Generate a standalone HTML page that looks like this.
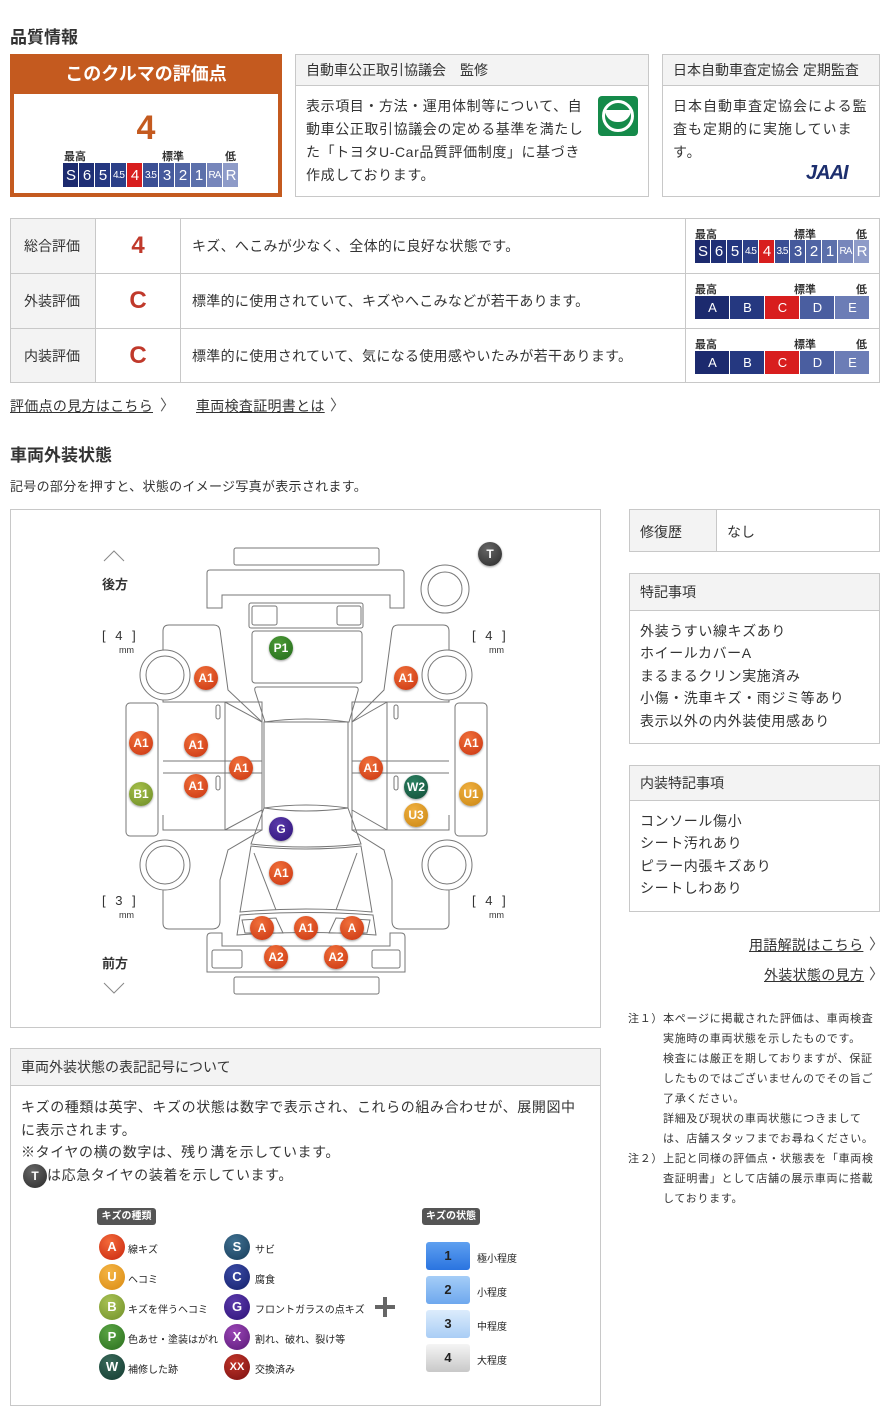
<!DOCTYPE html>
<html><head><meta charset="utf-8">
<style>
*{margin:0;padding:0;box-sizing:border-box}
body{width:890px;height:1425px;background:#fff;position:relative;font-family:"Liberation Sans","Noto Sans CJK JP",sans-serif;color:#333;overflow:hidden}
.a{position:absolute}
.box{position:absolute;border:1px solid #c8c8c8}
.hd{background:#f3f3f3;border-bottom:1px solid #c8c8c8;font-size:14px;padding-left:10px;color:#333}
.scale{display:flex;gap:1px}
.scale div{color:#fff;text-align:center;font-size:15px;display:flex;align-items:center;justify-content:center;letter-spacing:-1px}
.lbl{font-size:11px;font-weight:bold;color:#333;position:absolute}
.p{font-size:14px;line-height:23px;color:#333;letter-spacing:.6px}
.b{position:absolute;width:24px;height:24px;border-radius:50%;color:#fff;font-size:12px;text-align:center;line-height:24px;font-weight:bold;margin:-12px 0 0 -12px;box-shadow:0 1px 2px rgba(0,0,0,.4)}
.rA{background:radial-gradient(circle at 40% 30%,#f0703a,#c93310)}
.lg{position:absolute;width:26px;height:26px;border-radius:50%;color:#fff;font-size:13px;font-weight:bold;text-align:center;line-height:26px;margin:-13px 0 0 -13px}
.lt{position:absolute;font-size:10px;color:#222}
.sq{position:absolute;left:426px;width:44px;height:28px;border-radius:3px;text-align:center;line-height:28px;font-size:13px;font-weight:bold;color:#222}
.gr{position:absolute;left:96px;width:84px;height:55px;line-height:55px;text-align:center;font-size:24px;font-weight:bold;color:#c0392b}
.ds{position:absolute;left:192px;font-size:14px;letter-spacing:.3px}
</style></head><body>

<div class="a" style="left:10px;top:23px;font-size:17px;font-weight:bold">品質情報</div>

<div class="a" style="left:10px;top:54px;width:272px;height:143px;border:4px solid #c45a1f;background:#fff"></div>
<div class="a" style="left:10px;top:54px;width:272px;height:40px;background:#c45a1f;color:#fff;font-size:18px;font-weight:bold;text-align:center;line-height:40px">このクルマの評価点</div>
<div class="a" style="left:10px;top:108px;width:272px;text-align:center;font-size:34px;font-weight:bold;color:#c45a1f;line-height:40px">4</div>
<div class="lbl" style="left:64px;top:148px">最高</div>
<div class="lbl" style="left:162px;top:148px">標準</div>
<div class="lbl" style="left:225px;top:148px">低</div>
<div class="a scale" style="left:63px;top:163px;height:24px">
<div style="width:15px;background:#1c2a6e">S</div><div style="width:15px;background:#1f2f75">6</div><div style="width:15px;background:#243780">5</div><div style="width:15px;background:#2c4088;font-size:10px">4.5</div><div style="width:15px;background:#d81e1e">4</div><div style="width:15px;background:#3b4f94;font-size:10px">3.5</div><div style="width:15px;background:#45599c">3</div><div style="width:15px;background:#5064a4">2</div><div style="width:15px;background:#5c70ab">1</div><div style="width:15px;background:#7786bb;font-size:10px">RA</div><div style="width:15px;background:#8e9bc8">R</div>
</div>

<div class="box" style="left:295px;top:54px;width:354px;height:143px">
<div class="hd" style="height:31px;line-height:30px">自動車公正取引協議会　監修</div>
<div class="p" style="padding:9px 0 0 10px;width:297px">表示項目・方法・運用体制等について、自動車公正取引協議会の定める基準を満たした「トヨタU-Car品質評価制度」に基づき作成しております。</div>
</div>
<div class="a" style="left:598px;top:96px;width:40px;height:40px;background:#158a4a;border-radius:4px"></div>
<div class="a" style="left:602px;top:100px;width:32px;height:32px;border:3px solid #fff;border-radius:50%"></div>
<div class="a" style="left:605px;top:110px;width:26px;height:12px;border-bottom:3px solid #fff;border-radius:0 0 14px 14px;background:#fff"></div>

<div class="box" style="left:662px;top:54px;width:218px;height:143px">
<div class="hd" style="height:31px;line-height:30px">日本自動車査定協会 定期監査</div>
<div class="p" style="padding:9px 0 0 10px;width:208px;letter-spacing:1px">日本自動車査定協会による監査も定期的に実施しています。</div>
</div>
<div class="a" style="left:806px;top:162px;font-size:20px;font-weight:bold;font-style:italic;color:#1d2f6e;letter-spacing:-1px">JAAI</div>

<div class="box" style="left:10px;top:218px;width:870px;height:165px"></div>
<div class="a" style="left:10px;top:218px;width:86px;height:165px;background:#f3f3f3;border:1px solid #c8c8c8"></div>
<div class="a" style="left:95px;top:218px;width:1px;height:165px;background:#c8c8c8"></div>
<div class="a" style="left:180px;top:218px;width:1px;height:165px;background:#c8c8c8"></div>
<div class="a" style="left:685px;top:218px;width:1px;height:165px;background:#c8c8c8"></div>
<div class="a" style="left:10px;top:273px;width:870px;height:1px;background:#c8c8c8"></div>
<div class="a" style="left:10px;top:328px;width:870px;height:1px;background:#c8c8c8"></div>

<div class="a" style="left:24px;top:236px;font-size:14px">総合評価</div>
<div class="a" style="left:24px;top:291px;font-size:14px">外装評価</div>
<div class="a" style="left:24px;top:346px;font-size:14px">内装評価</div>
<div class="gr" style="top:218px">4</div>
<div class="gr" style="top:273px">C</div>
<div class="gr" style="top:328px">C</div>
<div class="ds" style="top:236px">キズ、へこみが少なく、全体的に良好な状態です。</div>
<div class="ds" style="top:291px">標準的に使用されていて、キズやへこみなどが若干あります。</div>
<div class="ds" style="top:346px">標準的に使用されていて、気になる使用感やいたみが若干あります。</div>

<div class="lbl" style="left:695px;top:226px">最高</div><div class="lbl" style="left:794px;top:226px">標準</div><div class="lbl" style="left:856px;top:226px">低</div>
<div class="a scale" style="left:695px;top:240px;height:23px">
<div style="width:15px;background:#1c2a6e">S</div><div style="width:15px;background:#1f2f75">6</div><div style="width:15px;background:#243780">5</div><div style="width:15px;background:#2c4088;font-size:10px">4.5</div><div style="width:15px;background:#d81e1e">4</div><div style="width:14px;background:#3b4f94;font-size:10px">3.5</div><div style="width:15px;background:#45599c">3</div><div style="width:15px;background:#5064a4">2</div><div style="width:15px;background:#5c70ab">1</div><div style="width:15px;background:#7786bb;font-size:10px">RA</div><div style="width:15px;background:#8e9bc8">R</div>
</div>
<div class="lbl" style="left:695px;top:281px">最高</div><div class="lbl" style="left:794px;top:281px">標準</div><div class="lbl" style="left:856px;top:281px">低</div>
<div class="a scale" style="left:695px;top:296px;height:23px">
<div style="width:34px;background:#1c2a6e;font-size:13px">A</div><div style="width:34px;background:#253880;font-size:13px">B</div><div style="width:34px;background:#d81e1e;font-size:13px">C</div><div style="width:34px;background:#4a5ea0;font-size:13px">D</div><div style="width:34px;background:#6c7db6;font-size:13px">E</div>
</div>
<div class="lbl" style="left:695px;top:336px">最高</div><div class="lbl" style="left:794px;top:336px">標準</div><div class="lbl" style="left:856px;top:336px">低</div>
<div class="a scale" style="left:695px;top:351px;height:23px">
<div style="width:34px;background:#1c2a6e;font-size:13px">A</div><div style="width:34px;background:#253880;font-size:13px">B</div><div style="width:34px;background:#d81e1e;font-size:13px">C</div><div style="width:34px;background:#4a5ea0;font-size:13px">D</div><div style="width:34px;background:#6c7db6;font-size:13px">E</div>
</div>

<div class="a" style="left:10px;top:396px;font-size:14px;text-decoration:underline;letter-spacing:.3px">評価点の見方はこちら</div><div class="a" style="left:160px;top:394px;font-size:15px;color:#555">〉</div>
<div class="a" style="left:196px;top:396px;font-size:14px;text-decoration:underline;letter-spacing:.3px">車両検査証明書とは</div><div class="a" style="left:330px;top:394px;font-size:15px;color:#555">〉</div>

<div class="a" style="left:10px;top:441px;font-size:17px;font-weight:bold">車両外装状態</div>
<div class="a" style="left:10px;top:476px;font-size:13px;letter-spacing:.3px">記号の部分を押すと、状態のイメージ写真が表示されます。</div>

<div class="box" style="left:10px;top:509px;width:591px;height:519px"></div>
<svg class="a" style="left:0;top:0" width="890" height="1425" fill="none" stroke="#777" stroke-width="1">
<polyline points="104,561 114,551 124,561" stroke="#888"/>
<polyline points="104,983 114,993 124,983" stroke="#888"/>
<rect x="234" y="548" width="145" height="17" rx="2"/>
<path d="M207,608 V573 q0-3 3-3 H401 q3 0 3 3 V608 H390 V595 H222 V608 Z"/>
<rect x="249" y="603" width="114" height="25" rx="2"/>
<rect x="252" y="606" width="25" height="19" rx="2"/>
<rect x="337" y="606" width="24" height="19" rx="2"/>
<rect x="252" y="631" width="110" height="52" rx="3"/>
<path d="M257,687 H355 q4 0 3 4 L349,722 H265 L255,691 q-1-4 2-4 Z"/>
<path d="M264,722 Q306,716 348,722 V808 Q306,802 264,808 Z"/>
<path d="M264,808 Q306,814 348,808 L361,844 Q306,850 251,844 Z"/>
<path d="M251,846 Q306,852 361,846 L372,912 Q306,906 240,912 Z"/>
<line x1="254" y1="853" x2="276" y2="910"/><line x1="357" y1="853" x2="336" y2="910"/>
<path d="M240,915 Q306,910 373,915 L376,935 Q306,930 237,935 Z"/>
<path d="M242,920 L276,918 L283,933 L245,933 Z"/><path d="M370,920 L336,918 L329,933 L367,933 Z"/>
<path d="M207,937 q0-4 4-4 H222 V946 H390 V933 H401 q4 0 4 4 V972 H207 Z"/>
<rect x="212" y="950" width="30" height="18" rx="2"/><rect x="372" y="950" width="28" height="18" rx="2"/>
<rect x="234" y="977" width="145" height="17" rx="2"/>
<path d="M163,655 V631 q0-6 6-6 H214 q5 0 6 5 L228,690 L262,722"/>
<path d="M163,700 V702 H262 V830 H163 V815"/>
<path d="M225,702 V830 M163,761 H262 M163,773 H262 M225,702 L262,722 M225,830 L262,810"/>
<rect x="216" y="705" width="4" height="14" rx="2"/><rect x="216" y="776" width="4" height="14" rx="2"/>
<rect x="126" y="703" width="32" height="133" rx="4"/>
<path d="M163,888 V923 q0 6 6 6 H212 q8 0 8-8 V880 L228,850 L262,830"/>
<path d="M449,655 V631 q0-6-6-6 H398 q-5 0-6 5 L384,690 L352,722"/>
<path d="M449,700 V702 H352 V830 H449 V815"/>
<path d="M387,702 V830 M352,761 H449 M352,773 H449 M387,702 L352,722 M387,830 L352,810"/>
<rect x="394" y="705" width="4" height="14" rx="2"/><rect x="394" y="776" width="4" height="14" rx="2"/>
<rect x="455" y="703" width="32" height="133" rx="4"/>
<path d="M449,888 V923 q0 6-6 6 H400 q-8 0-8-8 V880 L384,850 L352,830"/>
<g fill="#fff">
<circle cx="165" cy="675" r="25"/><circle cx="165" cy="675" r="19"/>
<circle cx="165" cy="865" r="25"/><circle cx="165" cy="865" r="19"/>
<circle cx="447" cy="675" r="25"/><circle cx="447" cy="675" r="19"/>
<circle cx="447" cy="865" r="25"/><circle cx="447" cy="865" r="19"/>
<circle cx="445" cy="589" r="24"/><circle cx="445" cy="589" r="17"/>
</g>
</svg>
<div class="a" style="left:102px;top:574px;font-size:13px;font-weight:bold">後方</div>
<div class="a" style="left:102px;top:953px;font-size:13px;font-weight:bold">前方</div>
<div class="a" style="left:102px;top:628px;font-size:13px;word-spacing:6px">[ 4 ]</div><div class="a" style="left:119px;top:645px;font-size:9px">mm</div>
<div class="a" style="left:472px;top:628px;font-size:13px;word-spacing:6px">[ 4 ]</div><div class="a" style="left:489px;top:645px;font-size:9px">mm</div>
<div class="a" style="left:102px;top:893px;font-size:13px;word-spacing:6px">[ 3 ]</div><div class="a" style="left:119px;top:910px;font-size:9px">mm</div>
<div class="a" style="left:472px;top:893px;font-size:13px;word-spacing:6px">[ 4 ]</div><div class="a" style="left:489px;top:910px;font-size:9px">mm</div>

<div class="b" style="left:490px;top:554px;background:radial-gradient(circle at 40% 30%,#666,#2a2a2a)">T</div>
<div class="b" style="left:281px;top:648px;background:radial-gradient(circle at 40% 30%,#4c9a35,#236b1c)">P1</div>
<div class="b rA" style="left:206px;top:678px">A1</div>
<div class="b rA" style="left:406px;top:678px">A1</div>
<div class="b rA" style="left:141px;top:743px">A1</div>
<div class="b rA" style="left:196px;top:745px">A1</div>
<div class="b rA" style="left:241px;top:768px">A1</div>
<div class="b rA" style="left:196px;top:786px">A1</div>
<div class="b" style="left:141px;top:794px;background:radial-gradient(circle at 40% 30%,#a6c04a,#6b8a25)">B1</div>
<div class="b rA" style="left:471px;top:743px">A1</div>
<div class="b rA" style="left:371px;top:768px">A1</div>
<div class="b" style="left:416px;top:787px;background:radial-gradient(circle at 40% 30%,#2a8060,#134d38)">W2</div>
<div class="b" style="left:416px;top:815px;background:radial-gradient(circle at 40% 30%,#f0b040,#c98512)">U3</div>
<div class="b" style="left:471px;top:794px;background:radial-gradient(circle at 40% 30%,#f0b040,#c98512)">U1</div>
<div class="b" style="left:281px;top:829px;background:radial-gradient(circle at 40% 30%,#5a3aaa,#2e1278)">G</div>
<div class="b rA" style="left:281px;top:873px">A1</div>
<div class="b rA" style="left:262px;top:928px">A</div>
<div class="b rA" style="left:306px;top:928px">A1</div>
<div class="b rA" style="left:352px;top:928px">A</div>
<div class="b rA" style="left:276px;top:957px">A2</div>
<div class="b rA" style="left:336px;top:957px">A2</div>

<div class="box" style="left:629px;top:509px;width:251px;height:43px;background:linear-gradient(to right,#f3f3f3 87px,#fff 87px)"></div>
<div class="a" style="left:716px;top:509px;width:1px;height:43px;background:#c8c8c8"></div>
<div class="a" style="left:640px;top:522px;font-size:14px">修復歴</div>
<div class="a" style="left:727px;top:522px;font-size:14px">なし</div>

<div class="box" style="left:629px;top:573px;width:251px;height:171px">
<div class="hd" style="height:37px;line-height:36px">特記事項</div>
<div class="p" style="padding:9px 0 0 10px;line-height:22.4px">外装うすい線キズあり<br>ホイールカバーA<br>まるまるクリン実施済み<br>小傷・洗車キズ・雨ジミ等あり<br>表示以外の内外装使用感あり</div>
</div>
<div class="box" style="left:629px;top:765px;width:251px;height:147px">
<div class="hd" style="height:35px;line-height:34px">内装特記事項</div>
<div class="p" style="padding:9px 0 0 10px;line-height:22.4px">コンソール傷小<br>シート汚れあり<br>ピラー内張キズあり<br>シートしわあり</div>
</div>
<div class="a" style="left:749px;top:935px;font-size:14px;text-decoration:underline;letter-spacing:.3px">用語解説はこちら</div><div class="a" style="left:869px;top:933px;font-size:15px;color:#555">〉</div>
<div class="a" style="left:764px;top:965px;font-size:14px;text-decoration:underline;letter-spacing:.3px">外装状態の見方</div><div class="a" style="left:869px;top:963px;font-size:15px;color:#555">〉</div>

<div class="a" style="left:628px;top:1009px;font-size:11px;line-height:20px;color:#333;width:250px;letter-spacing:.7px">
<div style="white-space:nowrap">注１）本ページに掲載された評価は、車両検査</div>
<div style="padding-left:35px">実施時の車両状態を示したものです。<br>検査には厳正を期しておりますが、保証したものではございませんのでその旨ご了承ください。<br>詳細及び現状の車両状態につきましては、店舗スタッフまでお尋ねください。</div>
<div style="white-space:nowrap">注２）上記と同様の評価点・状態表を「車両検</div>
<div style="padding-left:35px">査証明書」として店舗の展示車両に搭載しております。</div>
</div>

<div class="box" style="left:10px;top:1048px;width:591px;height:358px">
<div class="hd" style="height:37px;line-height:36px">車両外装状態の表記記号について</div>
<div class="p" style="padding:10px 0 0 10px;width:570px;line-height:22.5px;letter-spacing:.6px">キズの種類は英字、キズの状態は数字で表示され、これらの組み合わせが、展開図中に表示されます。<br>※タイヤの横の数字は、残り溝を示しています。<br><span style="display:inline-block;width:24px;height:24px;border-radius:50%;background:radial-gradient(circle at 40% 30%,#666,#2a2a2a);color:#fff;text-align:center;line-height:24px;font-size:12px;font-weight:bold;vertical-align:middle;margin-left:2px;letter-spacing:0">T</span>は応急タイヤの装着を示しています。</div>
</div>
<div class="a" style="left:97px;top:1208px;width:59px;height:17px;background:#555;border-radius:3px;color:#fff;font-size:10px;font-weight:bold;text-align:center;line-height:17px">キズの種類</div>
<div class="a" style="left:422px;top:1208px;width:58px;height:17px;background:#555;border-radius:3px;color:#fff;font-size:10px;font-weight:bold;text-align:center;line-height:17px">キズの状態</div>

<div class="lg" style="left:112px;top:1247px;background:radial-gradient(circle at 40% 30%,#f36a3a,#c8250e)">A</div><div class="lt" style="left:128px;top:1241px">線キズ</div>
<div class="lg" style="left:112px;top:1277px;background:radial-gradient(circle at 40% 30%,#f5b545,#d98a12)">U</div><div class="lt" style="left:128px;top:1271px">ヘコミ</div>
<div class="lg" style="left:112px;top:1307px;background:radial-gradient(circle at 40% 30%,#a9c255,#6f8f28)">B</div><div class="lt" style="left:128px;top:1301px">キズを伴うヘコミ</div>
<div class="lg" style="left:112px;top:1337px;background:radial-gradient(circle at 40% 30%,#5aa544,#2a6e1e)">P</div><div class="lt" style="left:128px;top:1331px">色あせ・塗装はがれ</div>
<div class="lg" style="left:112px;top:1367px;background:radial-gradient(circle at 40% 30%,#3a6a5a,#123a30)">W</div><div class="lt" style="left:128px;top:1361px">補修した跡</div>
<div class="lg" style="left:237px;top:1247px;background:radial-gradient(circle at 40% 30%,#3f7090,#173c5a)">S</div><div class="lt" style="left:255px;top:1241px">サビ</div>
<div class="lg" style="left:237px;top:1277px;background:radial-gradient(circle at 40% 30%,#3a4aa5,#15206a)">C</div><div class="lt" style="left:255px;top:1271px">腐食</div>
<div class="lg" style="left:237px;top:1307px;background:radial-gradient(circle at 40% 30%,#5a3aaa,#2e1278)">G</div><div class="lt" style="left:255px;top:1301px">フロントガラスの点キズ</div>
<div class="lg" style="left:237px;top:1337px;background:radial-gradient(circle at 40% 30%,#9a45b5,#5a1a78)">X</div><div class="lt" style="left:255px;top:1331px">割れ、破れ、裂け等</div>
<div class="lg" style="left:237px;top:1367px;background:radial-gradient(circle at 40% 30%,#c0352a,#7a1010);font-size:11px">XX</div><div class="lt" style="left:255px;top:1361px">交換済み</div>

<div class="a" style="left:375px;top:1305px;width:20px;height:4px;background:#666"></div>
<div class="a" style="left:383px;top:1297px;width:4px;height:20px;background:#666"></div>

<div class="sq" style="top:1242px;background:linear-gradient(#5fa0f0,#2a74e0)">1</div><div class="lt" style="left:477px;top:1250px">極小程度</div>
<div class="sq" style="top:1276px;background:linear-gradient(#a5cdf7,#6ea8ee)">2</div><div class="lt" style="left:477px;top:1284px">小程度</div>
<div class="sq" style="top:1310px;background:linear-gradient(#dcecfc,#a9cdf5)">3</div><div class="lt" style="left:477px;top:1318px">中程度</div>
<div class="sq" style="top:1344px;background:linear-gradient(#f5f5f5,#c8c8c8)">4</div><div class="lt" style="left:477px;top:1352px">大程度</div>
</body></html>
